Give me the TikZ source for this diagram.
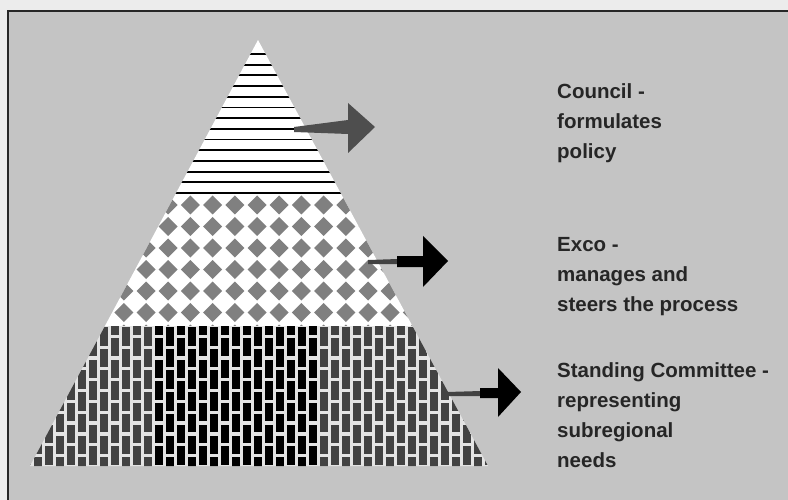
\documentclass[tikz,border=0pt]{standalone}
\usepackage{fontspec}
\setmainfont{Liberation Sans}
\usetikzlibrary{calc}
\definecolor{BG}{RGB}{196,196,196}
\definecolor{PG}{RGB}{236,236,236}
\definecolor{DG}{RGB}{66,66,66}
\definecolor{MG}{RGB}{128,128,128}
\definecolor{AG}{RGB}{78,78,78}
\definecolor{MO}{RGB}{228,228,228}

\begin{document}
\begin{tikzpicture}[x=1pt, y=-1pt,
  role/.style={anchor=north west, align=left, inner sep=0pt, text=black!85,
               font=\fontsize{20.5}{30}\selectfont\bfseries},
  stripe/.style={draw=black, line width=1.8pt},
  diam/.style={fill=MG},
  arr/.style={fill=#1, draw=none}
]
\useasboundingbox (0,0) rectangle (788,500);

% Page and frame
\fill[PG] (0,0) rectangle (788,500);
\fill[BG] (8,11) rectangle (788,500);
\draw[line width=1.6pt, black!85] (8,500) -- (8,11) -- (788,11);

% Pyramid corners
\coordinate (apex) at (258,40);
\coordinate (bl)   at (30,466);
\coordinate (br)   at (488,466);

\begin{scope}
\clip (apex) -- (bl) -- (br) -- cycle;

% Council band
\begin{scope}
\clip (0,0) rectangle (788,196);
\fill[white] (0,0) rectangle (788,196);
\foreach \y in {54,64.7,...,194}
  \draw[stripe] (0,\y) -- (788,\y);
\end{scope}

% Exco band
\begin{scope}
\clip (0,196) rectangle (788,326);
\fill[white] (0,196) rectangle (788,326);
\foreach \j in {0,...,6}
  \foreach \i in {-10,...,10}
    \fill[diam] ({257+22.2*\i},{205+21.5*\j})
      +(-9.5,0) -- +(0,-9.5) -- +(9.5,0) -- +(0,9.5) -- cycle;
\end{scope}

% Standing committee band
\begin{scope}
\clip (0,326) rectangle (788,500);
\fill[MO] (0,326) rectangle (788,500);
\foreach \i in {-21,...,21} {
  \pgfmathsetmacro\bx{258+11*\i}
  \ifnum\i<-9 \def\bc{DG}\else\ifnum\i>5 \def\bc{DG}\else\def\bc{black}\fi\fi
  \foreach \j in {-1,...,7} {
    \pgfmathsetmacro\by{327+21.7*\j+10.85*mod(abs(\i),2)}
    \fill[fill=\bc] (\bx-4,\by) rectangle (\bx+4,\by+18.5);
  }
}
\end{scope}
\end{scope}

% Arrows
\fill[arr=AG] (294,127) -- (348,120) -- (348,103) -- (375,127)
  -- (348,153) -- (348,134) -- (294,132) -- cycle;
\fill[arr=DG] (368,260) -- (398,259) -- (398,264) -- (368,264) -- cycle;
\fill[arr=black] (397,256) -- (423,256) -- (423,236) -- (448,261)
  -- (423,287) -- (423,267) -- (397,267) -- cycle;
\fill[arr=DG] (447,392) -- (481,391) -- (481,396) -- (447,396) -- cycle;
\fill[arr=black] (480,388) -- (498,388) -- (498,368) -- (521,392)
  -- (498,417) -- (498,398) -- (480,398) -- cycle;

% Labels
\node[role] (council)  at (557,83)  {Council -\\formulates\\policy};
\node[role] (exco)     at (557,237) {Exco -\\manages and\\steers the process};
\node[role] (standing) at (557,362) {Standing Committee -\\representing\\subregional\\needs};
\end{tikzpicture}
\end{document}
